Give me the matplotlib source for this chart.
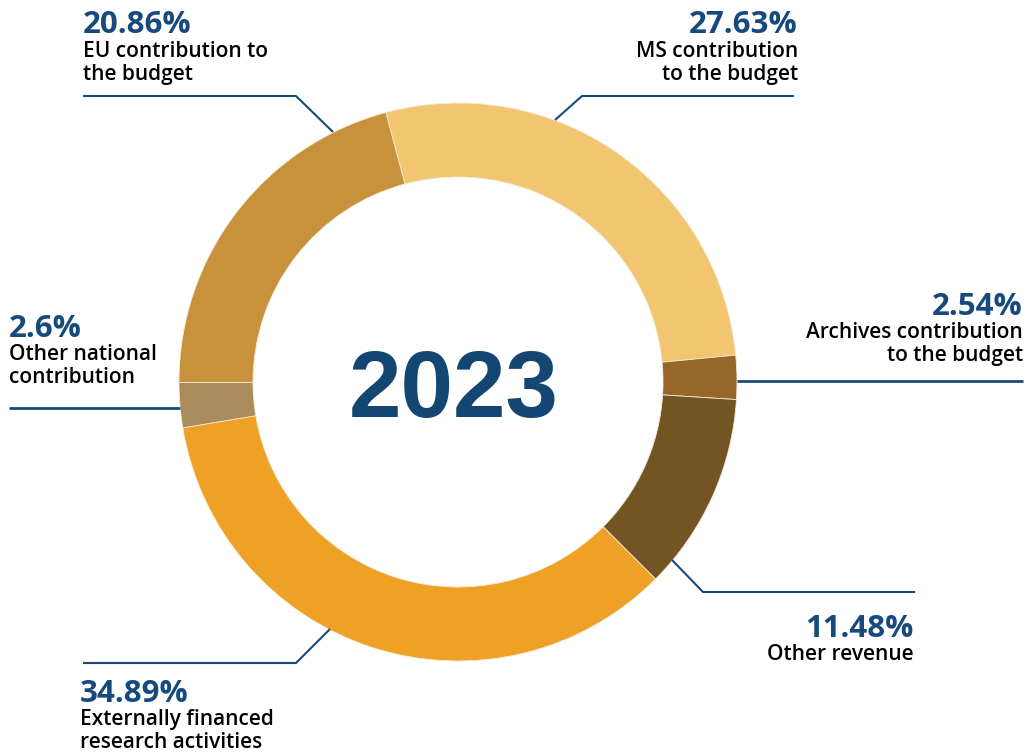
import matplotlib
matplotlib.use("Agg")
import matplotlib.pyplot as plt

# slices in drawing order (clockwise from the top-left seam)
labels = ["MS contribution\nto the budget",
          "Archives contribution\nto the budget",
          "Other revenue",
          "Externally financed\nresearch activities",
          "Other national\ncontribution",
          "EU contribution to\nthe budget"]
shares = [27.63, 2.54, 11.48, 34.89, 2.6, 20.86]
pct_text = ["27.63%", "2.54%", "11.48%", "34.89%", "2.6%", "20.86%"]
colors = ["#F2C571", "#956829", "#735423", "#EFA125", "#A98B5C", "#C8913B"]
year = "2023"

BLUE = "#174A7C"
W, H = 1027, 753

fig = plt.figure(figsize=(W / 100, H / 100), dpi=100)
ax = fig.add_axes([0, 0, 1, 1])

cx, cy = 458, H - 382
ax.pie(shares, colors=colors, startangle=105, counterclock=False,
       center=(cx, cy), radius=279, frame=True,
       wedgeprops=dict(width=74, edgecolor="#f4ead8", linewidth=0.6))
ax.set_xlim(0, W)
ax.set_ylim(0, H)
ax.set_aspect("equal")
ax.axis("off")

def py(y):
    return H - y

# leader lines, pixel coords (x, y-from-top)
leaders = [
    [(794, 96), (582, 96), (555, 120)],      # MS
    [(1023, 381), (737, 381)],               # Archives
    [(915, 592), (703, 592), (672, 560)],    # Other revenue
    [(83, 663), (296, 663), (330, 629)],     # Externally
    [(9, 408), (180, 408)],                  # Other national
    [(83, 96), (296, 96), (333, 132)],       # EU
]
for i, pts in enumerate(leaders):
    xs = [p[0] for p in pts]
    ys = [py(p[1]) for p in pts]
    lw = 2.0 if i in (1, 4) else 1.5
    ax.plot(xs, ys, color=BLUE, lw=lw, solid_capstyle="butt")

# text anchors: x, alignment, baseline of percent, baseline of first label line
anchors = [
    (798, "right", 33, 57),
    (1023, "right", 315, 338),
    (914, "right", 637, 660),
    (80, "left", 702, 725),
    (9, "left", 337, 360),
    (83, "left", 33, 57),
]
for i, (x, ha, yp, yl) in enumerate(anchors):
    ax.text(x, py(yp), pct_text[i], ha=ha, va="baseline", color=BLUE,
            fontsize=22.5, fontweight="bold", family=["Open Sans", "DejaVu Sans"])
    for j, line in enumerate(labels[i].split("\n")):
        ax.text(x, py(yl + 23 * j), line, ha=ha, va="baseline", color="black",
                fontsize=15, fontweight="semibold", family=["Open Sans", "DejaVu Sans"])

ax.text(454, py(417), year, ha="center", va="baseline", color="#134673",
        fontsize=68, fontweight="bold", family=["Liberation Sans", "DejaVu Sans"])

fig.savefig("out.png", dpi=100)
